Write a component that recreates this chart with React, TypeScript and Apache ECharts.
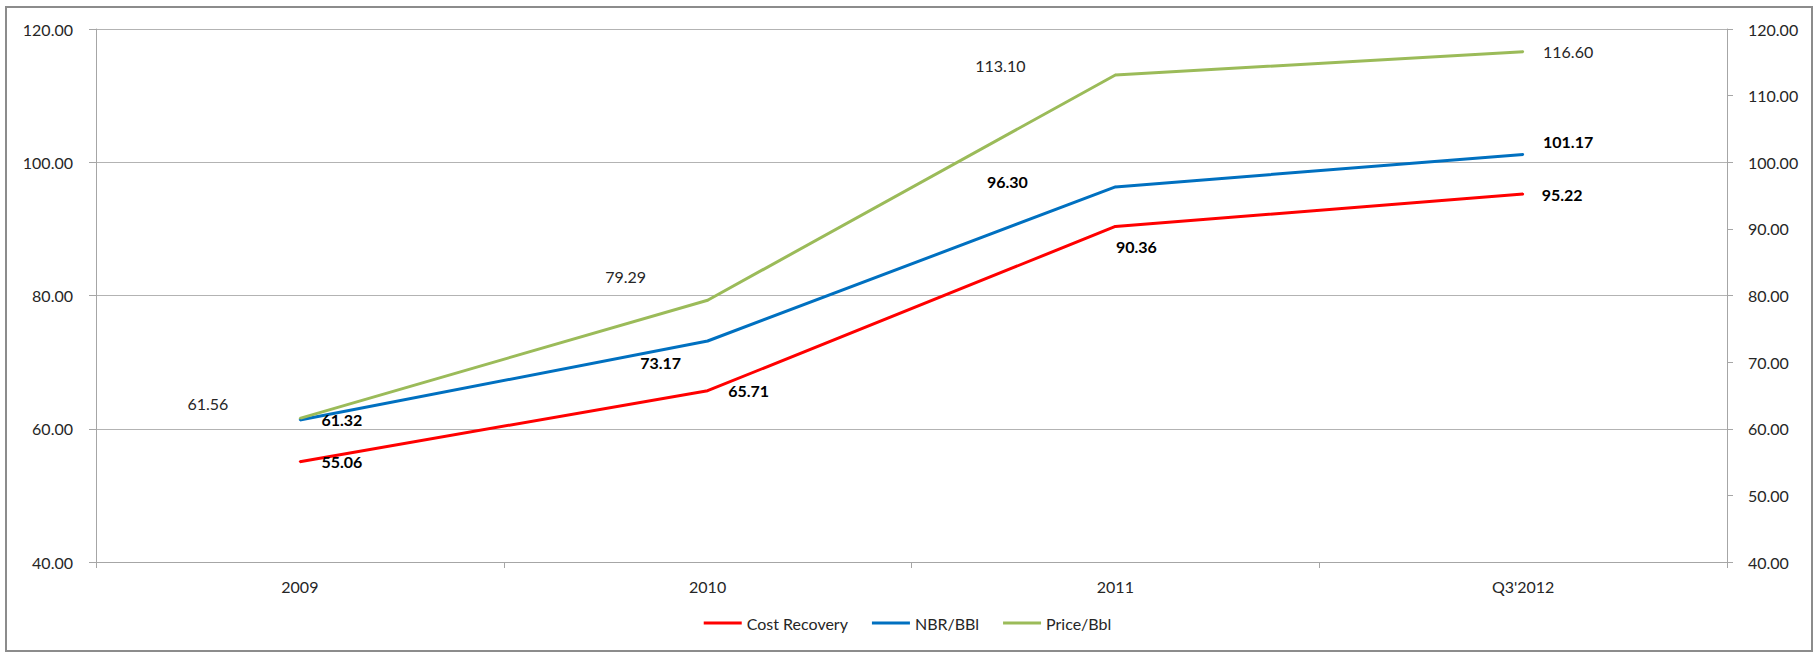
import React, { useEffect, useRef } from "react";
import * as echarts from "echarts";

const categories = ["2009", "2010", "2011", "Q3'2012"];
const costRecovery = [55.06, 65.71, 90.36, 95.22];
const nbrPerBbl = [61.32, 73.17, 96.3, 101.17];
const pricePerBbl = [61.56, 79.29, 113.1, 116.6];
const seriesNames = ["Cost Recovery", "NBR/BBl", "Price/Bbl"];

// label offsets (px, relative to the point) — presentation only
const costOffsets = [[42, 0], [41, 0], [21, 20], [39, 0]];
const nbrOffsets = [[42, 0], [-47, 21], [-108, -5], [45, -13]];
const priceOffsets = [[-92, -15], [-82, -24], [-115, -9], [45, 0]];

const FONT = "Lato";

function buildData(values: number[], offsets: number[][]) {
  return values.map((v, i) => ({
    value: v,
    label: { offset: offsets[i] },
  }));
}

export default function App() {
  const ref = useRef<HTMLDivElement>(null);
  useEffect(() => {
    if (!ref.current) return;
    const chart = echarts.init(ref.current, null, { renderer: "svg" });
    const mkSeries = (
      name: string,
      values: number[],
      offsets: number[][],
      color: string,
      bold: boolean
    ) => ({
      name,
      type: "line",
      data: buildData(values, offsets),
      symbol: "circle",
      symbolSize: 2,
      itemStyle: { color },
      lineStyle: { color, width: 3 },
      label: {
        show: true,
        position: "inside",
        align: "center",
        verticalAlign: "middle",
        fontFamily: FONT,
        fontSize: 16,
        fontWeight: bold ? "bold" : "normal",
        color: bold ? "#000" : "#262626",
        formatter: (p: any) => Number(p.value).toFixed(2),
      },
      emphasis: { disabled: true },
    });
    chart.setOption({
      animation: false,
      backgroundColor: "#fff",
      textStyle: { fontFamily: FONT },
      graphic: [
        {
          type: "rect",
          shape: { x: 6, y: 7, width: 1806, height: 644 },
          style: { fill: "none", stroke: "#8c8c8c", lineWidth: 2 },
          silent: true,
        },
      ],
      grid: { left: 96, right: 88, top: 29, bottom: 91 },
      legend: {
        bottom: 17,
        left: "center",
        icon: "rect",
        itemWidth: 38,
        itemHeight: 3,
        itemGap: 24,
        data: seriesNames,
        textStyle: { fontFamily: FONT, fontSize: 16, color: "#262626" },
      },
      xAxis: {
        type: "category",
        data: categories,
        boundaryGap: true,
        axisLine: { show: true, lineStyle: { color: "#a6a6a6", width: 1 } },
        axisTick: { show: true, length: 6, lineStyle: { color: "#a6a6a6" } },
        axisLabel: { fontFamily: FONT, fontSize: 16, color: "#262626", margin: 16 },
      },
      yAxis: [
        {
          type: "value",
          min: 40,
          max: 120,
          interval: 20,
          position: "left",
          axisLine: { show: true, lineStyle: { color: "#a6a6a6" } },
          axisTick: { show: true, length: 7, lineStyle: { color: "#a6a6a6" } },
          splitLine: { show: true, lineStyle: { color: "#b3b3b3", width: 1 } },
          axisLabel: {
            fontFamily: FONT,
            fontSize: 16,
            color: "#262626",
            margin: 23,
            formatter: (v: number) => v.toFixed(2),
          },
        },
        {
          type: "value",
          min: 40,
          max: 120,
          interval: 10,
          position: "right",
          axisLine: { show: true, lineStyle: { color: "#a6a6a6" } },
          axisTick: { show: true, length: 6, lineStyle: { color: "#a6a6a6" } },
          splitLine: { show: false },
          axisLabel: {
            fontFamily: FONT,
            fontSize: 16,
            color: "#262626",
            margin: 21,
            formatter: (v: number) => v.toFixed(2),
          },
        },
      ],
      series: [
        mkSeries(seriesNames[0], costRecovery, costOffsets, "#ff0000", true),
        mkSeries(seriesNames[1], nbrPerBbl, nbrOffsets, "#0070c0", true),
        mkSeries(seriesNames[2], pricePerBbl, priceOffsets, "#9bbb59", false),
      ],
    });
    return () => chart.dispose();
  }, []);
  return (
    <div
      ref={ref}
      style={{ position: "absolute", left: 0, top: 0, width: 1815, height: 653 }}
    />
  );
}
